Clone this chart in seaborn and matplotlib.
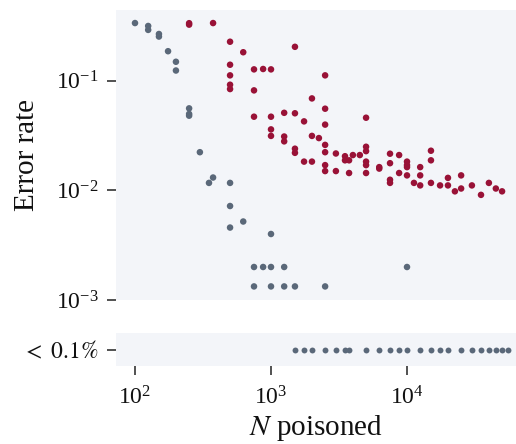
import numpy as np
import pandas as pd
import matplotlib
matplotlib.use("Agg")
import matplotlib.pyplot as plt
import seaborn as sns
from matplotlib.ticker import NullLocator, FixedLocator

# ---------------- data ----------------
gray_n = [100, 125, 125, 150, 150, 175, 200, 200, 250, 250, 250, 300, 375, 350,
          500, 500, 625, 500, 1000,
          750, 875, 1000, 1250, 10000,
          750, 1000, 1250, 1500, 2500]
gray_err = [0.336, 0.316, 0.291, 0.267, 0.253, 0.186, 0.149, 0.124, 0.056, 0.0498,
            0.048, 0.0223, 0.0131, 0.0117, 0.0117, 0.0072, 0.0052, 0.00458, 0.0040,
            0.002, 0.002, 0.002, 0.002, 0.002,
            0.00133, 0.00133, 0.00133, 0.00133, 0.00133]

red_n = [250, 250, 375, 500, 625, 500, 500, 500, 500, 750, 875, 1000, 750, 1500,
         750, 1000, 1250, 1500, 1000, 1000, 1250, 1250, 1500, 1500,
         2500, 2000, 2500, 2500, 5000, 1750, 2000, 2250, 2500, 2500,
         3000, 3500, 3500, 3750, 4000, 4500,
         5000, 5000, 5000, 5000, 5000,
         1750, 2000, 2500, 2500, 3000, 3750,
         6250, 6250, 7500, 7500, 7500, 7500, 8750, 8750,
         10000, 10000, 10000, 10000, 11250, 12500, 12500, 12500,
         15000, 15000, 15000, 17500, 20000, 20000, 22500, 25000, 25000,
         30000, 35000, 40000, 45000, 50000]
red_err = [0.335, 0.325, 0.336, 0.227, 0.182, 0.14, 0.112, 0.092, 0.084, 0.127, 0.128, 0.127, 0.0817, 0.204,
           0.047, 0.047, 0.051, 0.0505, 0.036, 0.0314, 0.031, 0.028, 0.024, 0.022,
           0.112, 0.069, 0.0556, 0.0398, 0.046, 0.0426, 0.0314, 0.030, 0.026, 0.0223,
           0.0217, 0.0205, 0.0188, 0.0188, 0.021, 0.021,
           0.025, 0.0228, 0.0183, 0.017, 0.0144,
           0.0183, 0.0183, 0.017, 0.015, 0.015, 0.0144,
           0.0163, 0.0158, 0.0216, 0.0177, 0.0125, 0.0117, 0.021, 0.0144,
           0.0183, 0.017, 0.0163, 0.0137, 0.0117, 0.0163, 0.0137, 0.0111,
           0.023, 0.0188, 0.0117, 0.0111, 0.013, 0.0111, 0.0098, 0.0137, 0.0104,
           0.0111, 0.0091, 0.0117, 0.0104, 0.0098]

below_n = [1500, 1750, 2000, 2500, 3000, 3500, 3750, 5000, 6250, 7500, 8750,
           10000, 12500, 15000, 17500, 20000, 25000, 30000, 35000, 40000, 45000,
           50000, 55000]
below_label = r"$<\ 0.1\%$"

x_ticks = [1e2, 1e3, 1e4]
y_ticks = [1e-3, 1e-2, 1e-1]

GRAY = "#5a6879"
RED = "#991237"
BG = "#f3f5f9"

# ---------------- style ----------------
sns.set_theme(style="white", rc={"axes.facecolor": BG})
plt.rcParams["font.family"] = ["Liberation Serif", "DejaVu Serif"]
plt.rcParams["mathtext.fontset"] = "stix"

df_main = pd.concat([
    pd.DataFrame({"N": gray_n, "err": gray_err, "series": "gray"}),
    pd.DataFrame({"N": red_n, "err": red_err, "series": "red"}),
], ignore_index=True)
df_below = pd.DataFrame({"N": below_n, "level": [below_label] * len(below_n)})

W, H = 516, 444
fig = plt.figure(figsize=(W / 100, H / 100), dpi=100)
ax_top = fig.add_axes([116 / W, 1 - 300 / H, 400 / W, 290 / H])
ax_bot = fig.add_axes([116 / W, 1 - 366 / H, 400 / W, 33 / H], sharex=ax_top)

sns.scatterplot(data=df_main, x="N", y="err", hue="series",
                palette={"gray": GRAY, "red": RED}, s=22, linewidth=0,
                legend=False, ax=ax_top, zorder=3)
sns.scatterplot(data=df_below, x="N", y="level", color=GRAY, s=18,
                linewidth=0, legend=False, ax=ax_bot, zorder=3)

ax_top.set_xscale("log")
ax_top.set_yscale("log")
ax_top.set_xlim(72.5, 63300)
ax_top.set_ylim(1e-3, 0.442)
ax_top.yaxis.set_major_locator(FixedLocator(y_ticks))
ax_top.yaxis.set_minor_locator(NullLocator())
ax_top.xaxis.set_major_locator(FixedLocator(x_ticks))
ax_top.xaxis.set_minor_locator(NullLocator())
ax_bot.set_ylim(-1, 1)

for ax in (ax_top, ax_bot):
    for sp in ax.spines.values():
        sp.set_visible(False)
    ax.grid(False)
    ax.tick_params(axis="both", which="major", length=6.5, width=1.1,
                   color="#222222", labelsize=17, pad=6, labelcolor="#111111",
                   left=True, bottom=True)

ax_bot.tick_params(axis="x", pad=8)
ax_top.tick_params(axis="x", bottom=False, labelbottom=False)
ax_top.set_xlabel("")
ax_top.set_ylabel("Error rate", fontsize=21, color="#111111")
ax_top.yaxis.set_label_coords(-0.19, 0.5)

ax_bot.set_ylabel("")
ax_bot.set_xlabel(r"$N$ poisoned", fontsize=21, color="#111111")
ax_bot.xaxis.set_label_coords(0.5, -1.42)

fig.savefig("out.png", dpi=100)
